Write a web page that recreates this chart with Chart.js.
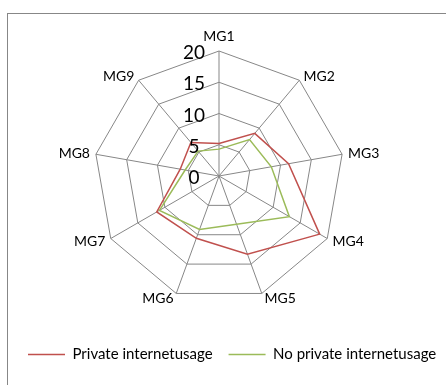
<!DOCTYPE html>
<html>
<head>
<meta charset="utf-8">
<title>MG radar</title>
<script src="https://cdn.jsdelivr.net/npm/chart.js@4/dist/chart.umd.min.js"></script>
<style>
  html, body { margin: 0; padding: 0; background: #fff; overflow: hidden; }
  #frame { position: absolute; left: 7px; top: 13px; width: 470px; height: 400px; border: 1px solid #878787; }
  #wrap { position: absolute; left: 0; top: 0; width: 470px; height: 385px; }
</style>
</head>
<body>
<div id="frame"></div>
<div id="wrap"><canvas id="chartRadar"></canvas></div>
<script>
const categories = ['MG1', 'MG2', 'MG3', 'MG4', 'MG5', 'MG6', 'MG7', 'MG8', 'MG9'];
const privateUsage = [5.2, 8.9, 11.3, 18.6, 13.3, 10.6, 11.5, 6.3, 7.0];
const noPrivateUsage = [4.3, 7.6, 8.5, 13.0, 8.2, 9.1, 11.0, 5.5, 5.2];
const tickValues = [0, 5, 10, 15, 20];

Chart.defaults.font.family = 'Lato';
Chart.defaults.color = '#000';

// tick numbers sit left of the first axis, category names hug the outer corners
const radarLabels = {
    id: 'radarLabels',
    afterDraw(chart) {
        const scale = chart.scales.r;
        const ctx = chart.ctx;
        ctx.save();
        ctx.fillStyle = '#000';
        ctx.textBaseline = 'middle';

        ctx.font = '19px Lato';
        ctx.textAlign = 'center';
        tickValues.forEach(v => {
            const d = scale.getDistanceFromCenterForValue(v);
            ctx.fillText(String(v), scale.xCenter - 25, scale.yCenter - d + 2);
        });

        ctx.font = '14px Lato';
        categories.forEach((name, i) => {
            const p = scale.getPointPosition(i, scale.drawingArea);
            const a = scale.getIndexAngle(i);
            const sin = Math.sin(a);
            const cos = Math.cos(a);
            if (Math.abs(sin) < 0.05) {
                ctx.textAlign = 'center';
                ctx.fillText(name, p.x, p.y - 15 * cos);
                return;
            }
            const gap = 1 + 5 * Math.abs(sin);
            ctx.textAlign = sin > 0 ? 'left' : 'right';
            ctx.fillText(name, p.x + (sin > 0 ? gap : -gap), p.y - 5 * cos);
        });
        ctx.restore();
    }
};

new Chart(document.getElementById('chartRadar'), {
    type: 'radar',
    data: {
        labels: categories,
        datasets: [{
            label: 'Private internetusage',
            data: privateUsage,
            borderColor: '#c0504d',
            backgroundColor: '#c0504d',
            borderWidth: 1.5,
            pointRadius: 0,
            fill: false
        }, {
            label: 'No private internetusage',
            data: noPrivateUsage,
            borderColor: '#9bbb59',
            backgroundColor: '#9bbb59',
            borderWidth: 1.5,
            pointRadius: 0,
            fill: false
        }]
    },
    options: {
        responsive: true,
        maintainAspectRatio: false,
        animation: false,
        layout: { padding: { left: 12, right: 0, top: 51, bottom: 13 } },
        scales: {
            r: {
                min: 0,
                max: 20,
                ticks: { stepSize: 5, display: false },
                pointLabels: { display: false },
                grid: { color: '#878787', lineWidth: 1 },
                angleLines: { color: '#878787', lineWidth: 1 }
            }
        },
        plugins: {
            tooltip: { enabled: false },
            // empty title on the right keeps the web left of the legend's middle
            title: { display: true, text: '', position: 'right', padding: { top: 34, bottom: 0 }, font: { size: 10, lineHeight: 1 } },
            legend: {
                position: 'bottom',
                align: 'start',
                // empty legend title leaves a gap between web and legend
                title: { display: true, text: '', padding: { top: 20, bottom: 0 }, font: { size: 10, lineHeight: 1 } },
                labels: {
                    usePointStyle: true,
                    pointStyle: 'line',
                    pointStyleWidth: 37,
                    padding: 16,
                    color: '#000',
                    font: { size: 15 }
                }
            }
        }
    },
    plugins: [radarLabels]
});
</script>
</body>
</html>
